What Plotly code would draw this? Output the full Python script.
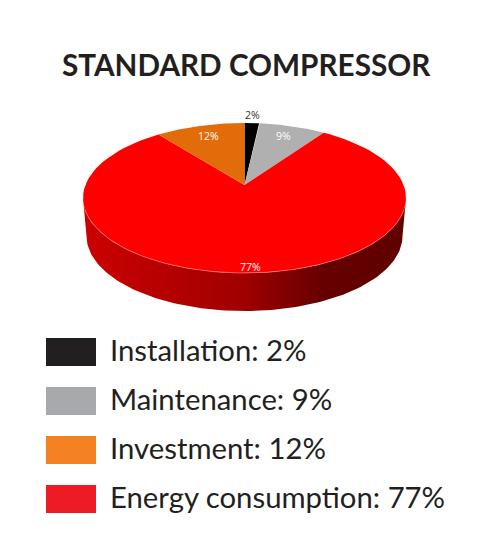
import numpy as np
import plotly.graph_objects as go

# legend order
categories = ['Installation', 'Maintenance', 'Investment', 'Energy consumption']
shares = [2, 9, 12, 77]
legend_colors = ['#231f20', '#a7a9ac', '#f58220', '#ed1c24']

# clockwise from 12 o'clock on the pie
pie_order = [0, 1, 3, 2]
pie_colors = ['#000000', '#b0b0b0', '#e26b0a', '#ff0000']
label_colors = ['#333333', '#ffffff', '#ffffff', '#ffffff']
label_reach = [1.13, 0.83, 0.83, 0.93]

title = 'STANDARD COMPRESSOR'

# pie geometry, in page pixels
CX, CY = 244.5, 198
RX, RY = 161.5, 75
APEX_Y = 185
DEPTH = 38
BOTTOM_RX = 158
# the far side of the pie is foreshortened
SQUEEZE = 0.28
# the page body adds this margin round the plot
BODY_MARGIN = 8


def rim_angle(frac):
    """ Turn a share of the circle into the angle used on the ellipse """
    a = 2 * np.pi * np.asarray(frac)
    return a - SQUEEZE * np.sin(a)


def rim(t, rx=RX, cy=CY):
    return CX + rx * np.sin(t), cy - RY * np.cos(t)


fig = go.Figure()

# side wall, drawn first so the top sits over it
t_front = np.linspace(np.pi / 2, 3 * np.pi / 2, 120)
x_top, y_top = rim(t_front)
x_bot, y_bot = rim(t_front[::-1], BOTTOM_RX, CY + DEPTH)
fig.add_trace(go.Scatter(
    x=np.concatenate([x_top, x_bot]),
    y=np.concatenate([y_top, y_bot]),
    mode='lines',
    line={'width': 0},
    fill='toself',
    fillgradient={
        'type': 'horizontal',
        'colorscale': [[0, '#cc0000'], [0.5, '#a00000'], [0.75, '#640000'], [1, '#600000']],
    },
    hoverinfo='skip',
))

# slices of the top face
start = 0
for i in pie_order:
    end = start + shares[i] / sum(shares)
    t = rim_angle(np.linspace(start, end, 100))
    x_edge, y_edge = rim(t)
    fig.add_trace(go.Scatter(
        x=np.concatenate([[CX], x_edge, [CX]]),
        y=np.concatenate([[APEX_Y], y_edge, [APEX_Y]]),
        mode='lines',
        line={'width': 0},
        fill='toself',
        fillcolor=pie_colors[i],
        name=categories[i],
        hoverinfo='name',
    ))

    # percent label along the middle of the slice
    x_mid, y_mid = rim(rim_angle((start + end) / 2))
    reach = label_reach[i]
    fig.add_annotation(
        x=CX + reach * (x_mid - CX),
        y=APEX_Y + reach * (y_mid - APEX_Y),
        text=f'{shares[i]}%',
        showarrow=False,
        font={'family': 'Open Sans', 'size': 10.5, 'color': label_colors[i]},
    )
    start = end

# pale edge between the top face and the wall
x_rim, y_rim = rim(np.linspace(np.pi / 2 + 0.15, 3 * np.pi / 2 - 0.15, 120))
fig.add_trace(go.Scatter(
    x=x_rim, y=y_rim, mode='lines',
    line={'color': '#ff8a8a', 'width': 0.6},
    hoverinfo='skip',
))

# legend rows
for i, name in enumerate(categories):
    row_y = 352 + i * 49
    fig.add_shape(
        type='rect', x0=46, x1=96, y0=row_y - 14, y1=row_y + 14,
        fillcolor=legend_colors[i], line={'width': 0},
    )
    fig.add_annotation(
        x=108, y=row_y - 3, text=f'{name}: {shares[i]}%',
        showarrow=False, xanchor='left',
        font={'family': 'Lato', 'size': 29.3, 'color': '#231f20'},
    )

fig.add_annotation(
    x=246.5, y=64, text=f'<b>{title}</b>',
    showarrow=False,
    font={'family': 'Lato', 'size': 29.7, 'color': '#231f20'},
)

fig.update_layout(
    width=500,
    height=550,
    margin={'l': 0, 'r': 0, 't': 0, 'b': 0},
    showlegend=False,
    paper_bgcolor='white',
    plot_bgcolor='white',
    xaxis={'range': [BODY_MARGIN, 500 + BODY_MARGIN], 'visible': False, 'fixedrange': True},
    yaxis={'range': [550 + BODY_MARGIN, BODY_MARGIN], 'visible': False, 'fixedrange': True},
)

fig.write_html("out.html")
